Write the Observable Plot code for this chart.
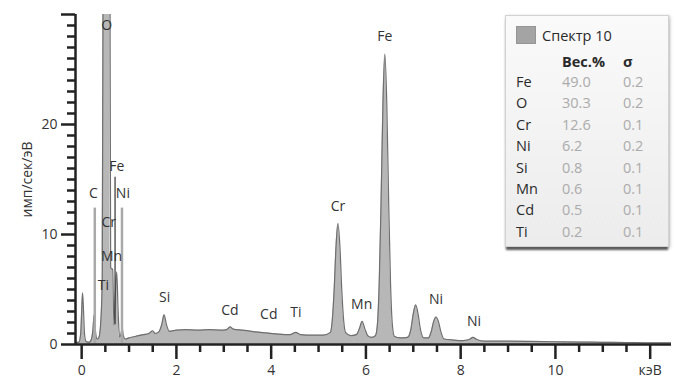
<!DOCTYPE html>
<html>
<head>
<meta charset="utf-8">
<script src="https://cdn.jsdelivr.net/npm/d3@7"></script>
<script src="https://cdn.jsdelivr.net/npm/@observablehq/plot@0.6"></script>
<style>
  html, body { margin: 0; padding: 0; background: #fff; }
  #wrap { position: relative; width: 679px; height: 385px; font-family: "Open Sans", sans-serif; }
  #legend { position: absolute; left: 505px; top: 15px; width: 164px; height: 232px;
    background: linear-gradient(#fafafa, #ececec); border: 1px solid #d2d2d2; box-sizing: border-box;
    box-shadow: 0 4px 2px -1px #5a5a5a, 1px 1px 3px rgba(0,0,0,0.25); color: #2a2a2a; font-size: 14.5px; }
  #legend .sw { position: absolute; left: 10px; top: 10px; width: 20px; height: 18px; background: #a4a4a4; border: 1px solid #959595; box-sizing: border-box; }
  #legend .t { position: absolute; white-space: nowrap; line-height: 1; transform: translateY(-50%); }
  #legend .b { font-weight: bold; }
  #legend .v { color: #ababab; }
</style>
</head>
<body>
<div id="wrap"><div id="chart"></div><div id="legend"></div></div>
<script>
// Spectrum (keV, counts per second per eV)
const specKeV = [-0.13,-0.06,-0.02,0.00,0.02,0.04,0.06,0.09,0.15,0.20,0.235,0.265,0.29,0.32,0.36,0.40,0.435,0.455,0.525,0.595,0.612,0.655,0.68,0.71,0.74,0.77,0.80,0.83,0.855,0.88,0.92,1.00,1.15,1.30,1.42,1.50,1.55,1.63,1.69,1.74,1.79,1.85,2.00,2.20,2.45,2.70,2.95,3.06,3.13,3.20,3.40,3.65,3.90,4.15,4.40,4.52,4.62,4.85,5.10,5.25,5.29,5.33,5.37,5.41,5.45,5.49,5.53,5.57,5.68,5.80,5.86,5.92,5.98,6.04,6.12,6.20,6.24,6.28,6.32,6.36,6.40,6.44,6.48,6.52,6.56,6.60,6.72,6.88,6.95,7.00,7.05,7.10,7.15,7.22,7.32,7.38,7.43,7.48,7.53,7.58,7.65,7.85,8.05,8.18,8.26,8.34,8.50,9.00,9.50,10.00,10.50,11.00,11.50,12.00,12.45];
const specCounts = [0.2,0.2,1.0,3.0,4.7,3.0,1.0,0.3,0.2,0.4,1.2,2.7,1.3,0.5,0.6,1.8,6.0,40,160,40,7.0,6.8,1.8,4.5,6.6,3.0,0.7,0.9,1.5,0.8,0.5,0.6,0.75,0.9,1.0,1.25,1.0,1.15,1.8,2.7,1.8,1.2,1.3,1.35,1.3,1.35,1.3,1.35,1.6,1.4,1.3,1.15,1.05,0.95,0.9,1.1,0.9,0.85,0.85,1.1,2.2,5.0,9.0,11.0,9.0,5.0,2.2,1.1,0.8,0.9,1.4,2.1,1.4,0.8,0.65,0.8,1.7,5.5,13,22,26.4,22,13,5.5,1.7,0.75,0.6,0.65,1.4,2.8,3.6,2.8,1.4,0.6,0.6,1.2,2.1,2.5,2.1,1.2,0.5,0.4,0.35,0.45,0.65,0.45,0.3,0.3,0.28,0.25,0.22,0.2,0.18,0.15,0.15];

// Element marker lines (keV, top)
const markerKeV = [0.277, 0.851, 0.705];
const markerTop = [12.4, 12.4, 15.2];
const markerDark = [false, false, true];

// Peak labels
const labelText = ["O","C","Fe","Ni","Cr","Mn","Ti","Si","Cd","Cd","Ti","Cr","Mn","Fe","Ni","Ni"];
const labelKeV  = [0.53,0.25,0.74,0.87,0.57,0.63,0.46,1.75,3.13,3.95,4.52,5.41,5.91,6.40,7.48,8.28];
const labelY    = [29.0,13.7,16.2,13.7,11.1,8.0,5.4,4.3,3.1,2.7,2.9,12.5,3.6,28.0,4.1,2.1];

// Axes
const xTicks = [0,2,4,6,8,10,12];
const xTickLabels = ["0","2","4","6","8","10","кэВ"];
const xMinorTicks = [0.5,1,1.5,2.5,3,3.5,4.5,5,5.5,6.5,7,7.5,8.5,9,9.5,10.5,11,11.5];
const yTicks = [0,10,20,30];
const yTickLabels = ["0","10","20",""];
const yMinorTicks = [1,2,3,4,5,6,7,8,9,11,12,13,14,15,16,17,18,19,21,22,23,24,25,26,27,28,29];

// Legend table
const legendTitle = "Спектр 10";
const legendElements = ["Fe","O","Cr","Ni","Si","Mn","Cd","Ti"];
const legendWeight = ["49.0","30.3","12.6","6.2","0.8","0.6","0.5","0.2"];
const legendSigma = ["0.2","0.2","0.1","0.2","0.1","0.1","0.1","0.1"];

const spec = specKeV.map((k, i) => ({keV: k, counts: specCounts[i]}));
const markers = markerKeV.map((k, i) => ({keV: k, top: markerTop[i], dark: markerDark[i]}));
const labels = labelText.map((t, i) => ({text: t, keV: labelKeV[i], y: labelY[i]}));
const xFmt = new Map(xTicks.map((t, i) => [t, xTickLabels[i]]));
const yFmt = new Map(yTicks.map((t, i) => [t, yTickLabels[i]]));
const xMin = -0.13;

const chart = Plot.plot({
  width: 679, height: 385,
  marginLeft: 75, marginRight: 8, marginTop: 14, marginBottom: 41,
  x: {domain: [xMin, 12.45], label: null},
  y: {domain: [0, 30], label: null},
  style: {fontFamily: "Open Sans, sans-serif", fontSize: "13px", color: "#333", background: "white"},
  marks: [
    Plot.areaY(spec, {x: "keV", y: "counts", curve: "monotone-x", fill: "#b7b7b7", clip: true}),
    Plot.lineY(spec, {x: "keV", y: "counts", curve: "monotone-x", stroke: "#6e6e6e", strokeWidth: 1.2, clip: true}),
    Plot.ruleX(markers.filter(d => !d.dark), {x: "keV", y1: 0, y2: "top", stroke: "#a9a9a9", strokeWidth: 2.5}),
    Plot.ruleX(markers.filter(d => d.dark), {x: "keV", y1: 1.8, y2: "top", stroke: "#333", strokeWidth: 1.2}),
    Plot.text(labels, {x: "keV", y: "y", text: "text", fontSize: 14, fill: "#333"}),
    Plot.ruleY([0], {stroke: "#222", strokeWidth: 2.5}),
    Plot.ruleX([xMin], {stroke: "#222", strokeWidth: 2.5}),
    Plot.axisX({ticks: xTicks, tickSize: 15, tickPadding: 6, tickFormat: d => xFmt.get(d), stroke: "#222", strokeWidth: 2.5, fontSize: 14, fill: "#333", label: null}),
    Plot.axisX({ticks: xMinorTicks, tickSize: 8, tickFormat: () => "", stroke: "#222", strokeWidth: 2.5, label: null}),
    Plot.axisY({ticks: yTicks, tickSize: 14, tickPadding: 4, tickFormat: d => yFmt.get(d), stroke: "#222", strokeWidth: 2.5, fontSize: 14, fill: "#333",
      label: "имп/сек/эВ", labelAnchor: "center", labelArrow: "none", labelOffset: 53}),
    Plot.axisY({ticks: yMinorTicks, tickSize: 8, tickFormat: () => "", stroke: "#222", strokeWidth: 2.5, label: null})
  ]
});
document.getElementById("chart").appendChild(chart);

// Legend box (HTML overlay)
const lg = document.getElementById("legend");
function add(cls, txt, left, cy) {
  const e = document.createElement("div");
  e.className = "t " + cls; e.textContent = txt;
  e.style.left = left + "px"; e.style.top = cy + "px";
  lg.appendChild(e);
}
const sw = document.createElement("div"); sw.className = "sw"; lg.appendChild(sw);
add("", legendTitle, 36, 20);
add("b", "Вес.%", 56, 46);
add("b", "σ", 117, 46);
legendElements.forEach((el, i) => {
  const cy = 66 + i * 21.4;
  add("", el, 10, cy);
  add("v", legendWeight[i], 56, cy);
  add("v", legendSigma[i], 117, cy);
});
</script>
</body>
</html>
